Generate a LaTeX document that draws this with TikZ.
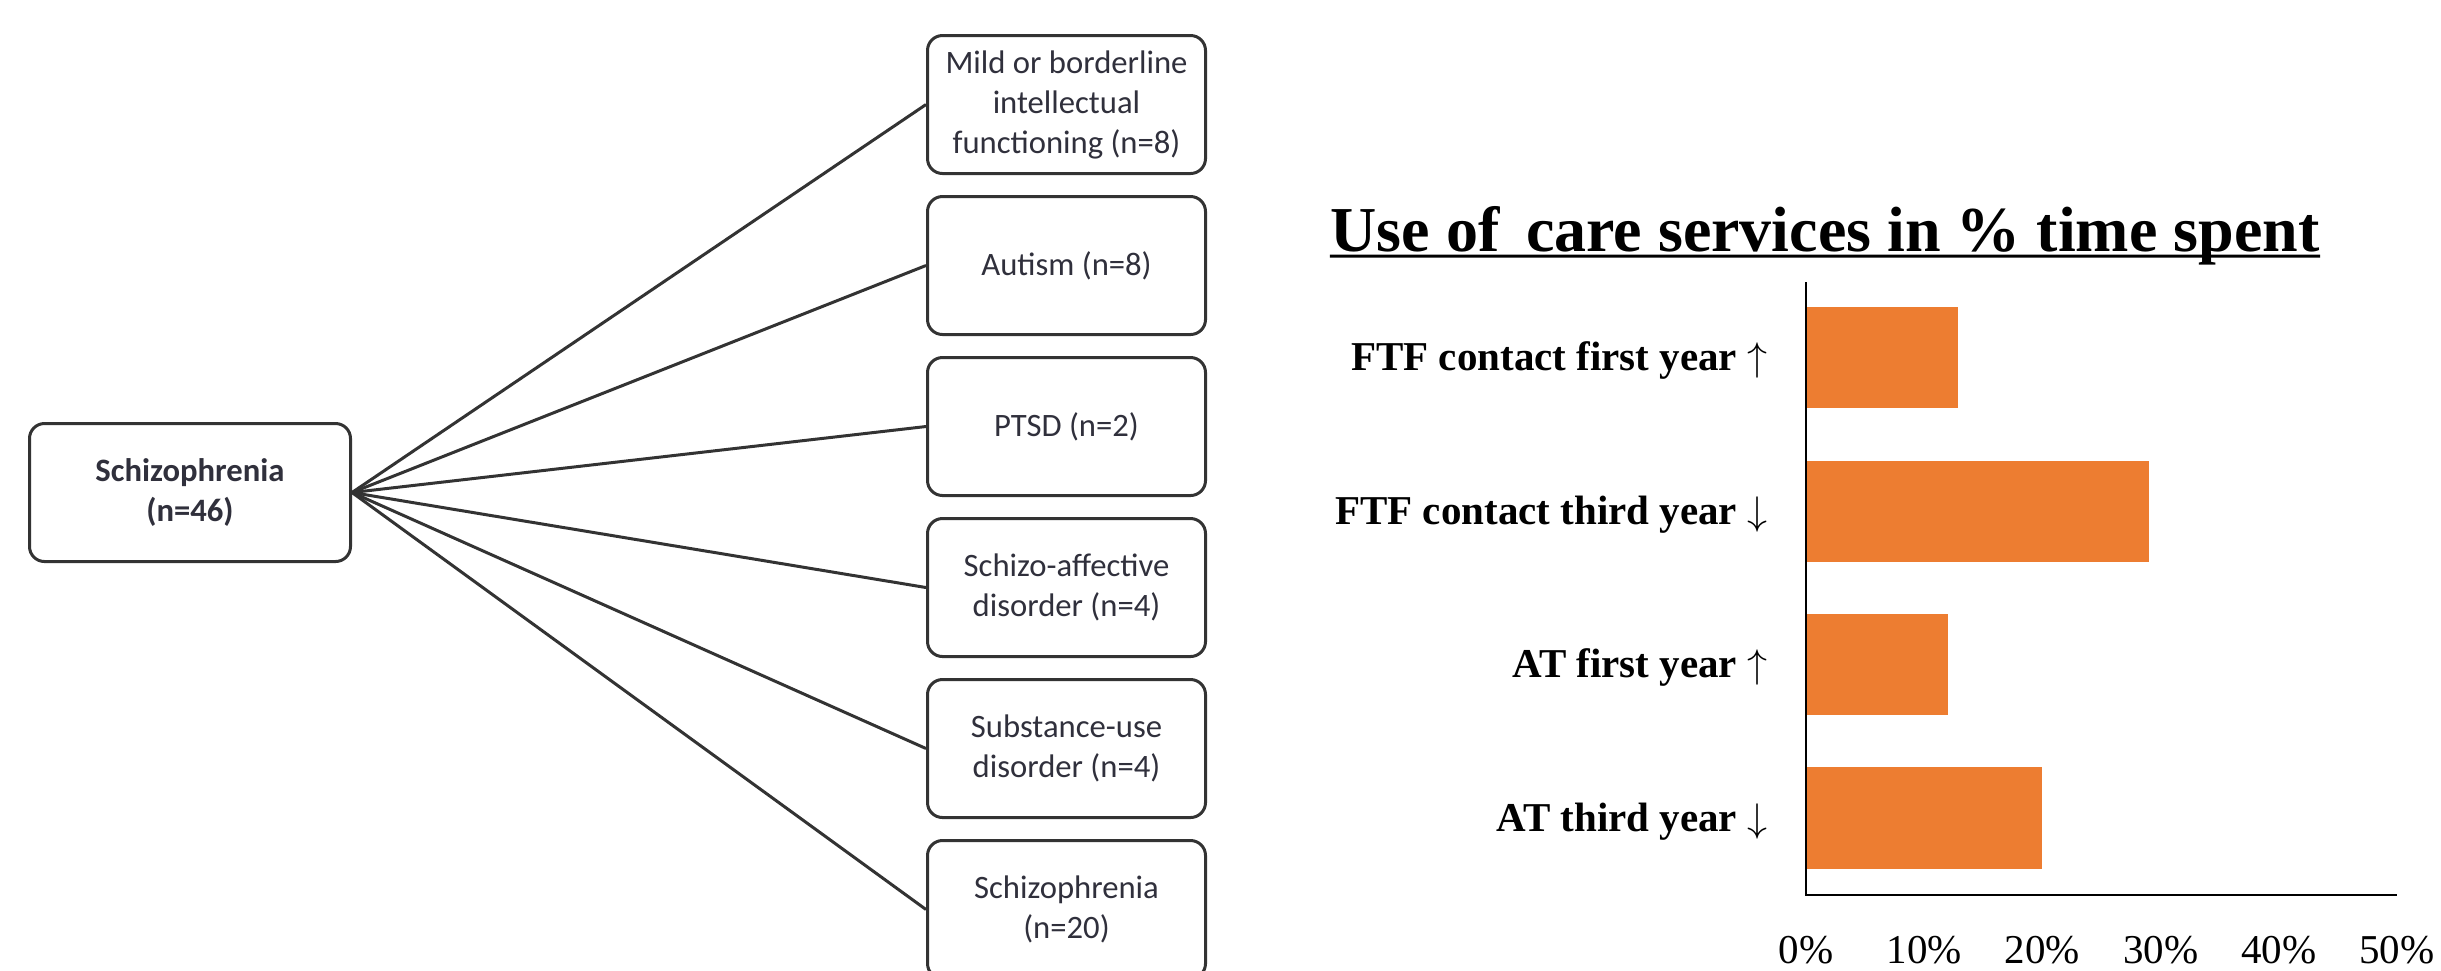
\documentclass[tikz,border=0pt]{standalone}
\usepackage{fontspec}
\setmainfont{Liberation Serif}
\newfontfamily\carlito{Carlito}
\definecolor{barorange}{HTML}{ED7D31}
\definecolor{boxline}{HTML}{333333}
\definecolor{boxtext}{HTML}{30303C}
\begin{document}
\begin{tikzpicture}[x=0.3pt,y=-0.3pt,
  catbox/.style={draw=boxline, line width=0.9pt, rounded corners=4.5pt,
    minimum width=83.4pt, minimum height=41.4pt, align=center, inner sep=0pt,
    font=\carlito\fontsize{9.8}{12}\selectfont, text=boxtext, fill=white},
  rootbox/.style={catbox, minimum width=96.3pt,
    font=\carlito\bfseries\fontsize{9.8}{12}\selectfont},
  link/.style={draw=boxline, line width=0.9pt},
  bar/.style={fill=barorange, draw=none},
  catlabel/.style={anchor=base east, font=\bfseries\fontsize{12.3}{14}\selectfont, inner sep=0pt},
  ticklabel/.style={anchor=base, font=\fontsize{12.3}{14}\selectfont, inner sep=0pt},
  axisline/.style={line width=0.6pt, draw=black}
]
\useasboundingbox (0,0) rectangle (2441,970);

% left tree
\node[rootbox] (root) at (190,492.5) {Schizophrenia\\(n=46)};
\node[catbox] (c1) at (1066.5,104.5) {Mild or borderline\\intellectual\\functioning (n=8)};
\node[catbox] (c2) at (1066.5,265.5) {Autism (n=8)};
\node[catbox] (c3) at (1066.5,426.5) {PTSD (n=2)};
\node[catbox] (c4) at (1066.5,587.5) {Schizo-affective\\disorder (n=4)};
\node[catbox] (c5) at (1066.5,748.5) {Substance-use\\disorder (n=4)};
\node[catbox] (c6) at (1066.5,909.5) {Schizophrenia\\(n=20)};
\foreach \c in {c1,c2,c3,c4,c5,c6} \draw[link] (root.east) -- (\c.west);

% chart
\node[anchor=base, font=\bfseries\fontsize{19.2}{22}\selectfont, inner sep=0pt] (title) at (1825,251) {Use of\, care services in \% time spent};
\draw[line width=0.9pt] (title.base west) ++(0,5) -- ([yshift=-1.5pt]title.base east);

\fill[bar] (1806,307) rectangle (1958,408);
\fill[bar] (1806,461) rectangle (2149,562);
\fill[bar] (1806,614) rectangle (1948,715);
\fill[bar] (1806,767) rectangle (2042,869);
\draw[axisline] (1806,282) -- (1806,895) -- (2397,895);

\node[catlabel] (l1) at (1768,370) {FTF contact first year $\uparrow$};
\node[catlabel] (l2) at (1768,524) {FTF contact third year $\downarrow$};
\node[catlabel] (l3) at (1768,677) {AT first year $\uparrow$};
\node[catlabel] (l4) at (1768,831) {AT third year $\downarrow$};

\foreach \v [count=\i from 0] in {0,10,20,30,40,50}
  \node[ticklabel] (t\i) at (1806+118.2*\i,963) {\v\%};
\end{tikzpicture}
\end{document}
